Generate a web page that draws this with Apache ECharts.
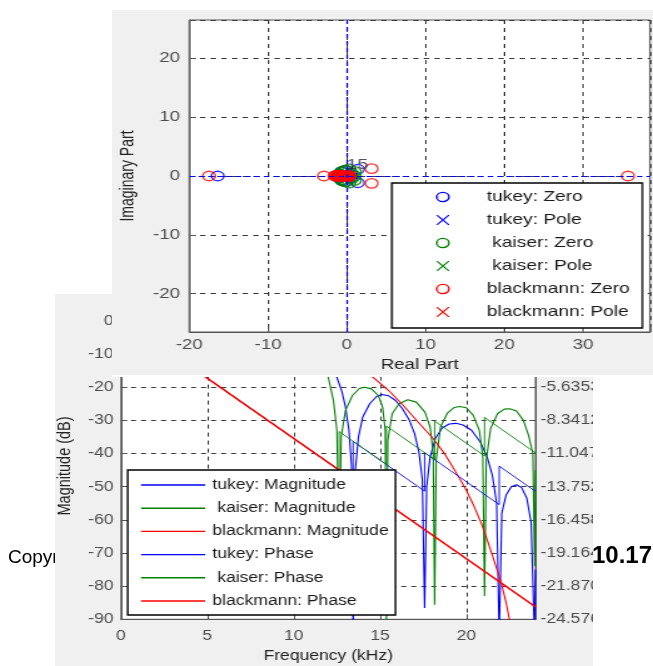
<!DOCTYPE html>
<html>
<head>
<meta charset="utf-8">
<title>Window comparison: pole-zero plot and frequency response</title>
<script src="https://cdn.jsdelivr.net/npm/echarts@6/dist/echarts.min.js"></script>
<style>
  html, body { margin: 0; padding: 0; background: #fff; overflow: hidden; }
  #page { position: absolute; left: 0; top: 0; width: 653px; height: 666px; }
  /* MATLAB figures exported with a wider-than-tall pixel aspect */
  #resp { position: absolute; left: 55px; top: 294px; width: 430px; height: 372px;
          transform: scaleX(1.2512); transform-origin: 0 0; }
  #pz   { position: absolute; left: 112px; top: 10px; width: 406px; height: 367px;
          transform: scaleX(1.3325); transform-origin: 0 0; }
</style>
</head>
<body>
<div id="page"></div>
<div id="resp"></div>
<div id="pz"></div>
<script>
// ---------------- pole-zero plot (z-plane) ----------------
const tukeyZeros = [[-16.4, 0], [-0.061, 0], [1.4, 1.15], [1.4, -1.15], [0.42, 0.35], [0.42, -0.35],
  [-0.19, 0.98], [-0.19, -0.98], [-0.67, 0.74], [-0.67, -0.74], [-0.96, 0.27], [-0.96, -0.27], [-1, 0]];
const tukeyPoles = [[0, 0]];
const kaiserZeros = [[-0.08, 1.0], [-0.08, -1.0], [-0.43, 0.9], [-0.43, -0.9], [-0.72, 0.69], [-0.72, -0.69],
  [-0.93, 0.38], [-0.93, -0.38], [-1, 0], [1.0, 0.75], [1.0, -0.75], [0.63, 0.45], [0.63, -0.45], [1.0, 0],
  [0.3, 1.2], [0.3, -1.2]];
const kaiserPoles = [[0, 0]];
const blackmannZeros = [[-17.5, 0], [-0.057, 0], [35.7, 0], [0.028, 0], [-2.9, 0], [-0.345, 0],
  [3.15, 1.25], [3.15, -1.25], [0.274, 0.109], [0.274, -0.109], [-1.55, 0], [-1.2, 0.12], [-1.2, -0.12],
  [-0.9, 0], [-0.62, 0.1], [-0.62, -0.1], [-0.2, 0.08], [-0.2, -0.08], [-1.4, 0.1], [-1.0, 0.15],
  [-0.8, -0.12], [-0.45, 0.12], [-0.45, -0.12], [0.1, 0.1], [0.1, -0.1]];
const blackmannPoles = [[0, 0]];
const poleMultiplicity = '15';
const realTicks = [-20, -10, 0, 10, 20, 30];
const imagTicks = [-20, -10, 0, 10, 20];
const pzLegendNames = ['tukey: Zero', 'tukey: Pole', ' kaiser: Zero', ' kaiser: Pole', 'blackmann: Zero', 'blackmann: Pole'];

// ---------------- magnitude / phase response ----------------
const tukeyFreq = [0, 4, 8, 10, 11, 12, 12.5, 12.8, 13.0, 13.2, 13.35, 13.44, 13.55, 13.75, 14.0, 14.4, 14.8, 15.1, 15.5,
  15.9, 16.3, 16.7, 17.0, 17.25, 17.45, 17.58, 17.7, 17.9, 18.2, 18.6, 19.0, 19.4, 19.8, 20.3, 20.8, 21.2, 21.5,
  21.75, 21.9, 22.05, 22.3, 22.6, 22.9, 23.2, 23.5, 23.75, 23.94, 24];
const tukeyMagDb = [0, -0.5, -3, -6.5, -10, -14, -17, -21.5, -26, -33, -44, -95, -46, -35, -29, -25, -22.8, -22.2, -22.6,
  -24, -26.5, -30, -34, -39.5, -48, -86.6, -50, -41, -35.5, -32.3, -31.1, -30.9, -31.4, -33, -36.5, -41, -46.5,
  -55, -95, -58, -52.5, -50, -49.4, -50.3, -53.5, -61, -95, -75];
const kaiserFreq = [0, 4, 8, 10, 11, 11.5, 12.0, 12.3, 12.5, 12.63, 12.75, 13.0, 13.4, 13.8, 14.1, 14.5, 14.9, 15.15, 15.3,
  15.37, 15.45, 15.7, 16.1, 16.6, 17.1, 17.6, 17.9, 18.08, 18.16, 18.25, 18.5, 18.9, 19.3, 19.6, 20.0, 20.4, 20.75,
  20.95, 21.05, 21.15, 21.4, 21.8, 22.2, 22.5, 22.9, 23.3, 23.6, 23.85, 23.95, 24];
const kaiserMagDb = [0, -0.2, -2, -5, -9, -12, -17, -24, -33, -70, -35, -27, -22.5, -20.4, -20.0, -20.5, -22.5, -26, -33,
  -92, -36, -28, -25, -23.8, -24.5, -27.5, -32, -40, -85.6, -42, -32, -27.8, -26.1, -25.8, -26.2, -28.5, -33,
  -41, -83, -42, -32.5, -28, -26.6, -26.5, -27.2, -30, -34.5, -40, -74, -45];
const blackmannFreq = [0, 4, 8, 10, 12, 13.5, 14.6, 15.5, 16.31, 17.2, 18.06, 18.7, 19.2, 19.6, 19.99, 20.45, 20.86,
  21.2, 21.53, 21.8, 22.02, 22.3, 22.5, 22.6];
const blackmannMagDb = [0, -1, -4, -7, -11.5, -14.5, -17, -21, -25.3, -30.5, -35.4, -39.8, -44, -47.5, -51, -56, -61,
  -66, -71.1, -75.5, -79.1, -85, -90.2, -92];

const tukeyPhaseFreq = [0, 13.44, 13.44, 17.58, 17.58, 21.9, 21.9, 24];
const tukeyPhaseRad = [0, -13.195, -10.053, -14.118, -10.976, -15.217, -12.075, -14.137];
const kaiserPhaseFreq = [0, 12.63, 12.63, 15.37, 15.37, 18.16, 18.16, 21.05, 21.05, 24];
const kaiserPhaseRad = [0, -12.400, -9.258, -11.948, -8.806, -11.546, -8.404, -11.241, -8.099, -10.996];
const blackmannPhaseFreq = [0, 24];
const blackmannPhaseRad = [0, -23.562];

const freqTicks = [0, 5, 10, 15, 20];
const magTicks = [-90, -80, -70, -60, -50, -40, -30, -20, -10, 0];
const phaseTickLabels = ['-24.5765', '-21.8706', '-19.1647', '-16.4588', '-13.7529', '-11.0471', '-8.3412',
  '-5.6353', '-2.9294', '-0.2235'];
const respLegendNames = ['tukey: Magnitude', ' kaiser: Magnitude', 'blackmann: Magnitude',
  'tukey: Phase', ' kaiser: Phase', 'blackmann: Phase'];

const BLUE = '#0000ff', GREEN = '#008000', RED = '#ff0000';
const FONT = '"Liberation Sans", Arial, sans-serif';
const TICK_COLOR = '#4d4d4d';
const GRID_LINE = { show: true, lineStyle: { color: '#3a3a3a', type: [4, 4], width: 1 } };

const zip = (xs, ys) => xs.map((x, i) => [x, ys[i]]);

// ---------------- background page text ----------------
const page = echarts.init(document.getElementById('page'));
page.setOption({
  animation: false,
  backgroundColor: '#ffffff',
  graphic: [
    { type: 'text', left: 8, top: 548, silent: true,
      style: { text: 'Copyright \u00a9 2014', fill: '#000', font: '19px ' + FONT } },
    { type: 'text', left: 592, top: 544, silent: true,
      style: { text: '10.1717/journal', fill: '#000', font: 'bold 24px ' + FONT } }
  ]
});

// ---------------- frequency response figure ----------------
const resp = echarts.init(document.getElementById('resp'));
const respColors = [BLUE, GREEN, RED, BLUE, GREEN, RED];

function respLegend() {
  const x0 = 58.1, y0 = 176, w = 214, h = 145;
  const items = [{ type: 'rect', z: 100, shape: { x: x0, y: y0, width: w, height: h },
    style: { fill: '#fff', stroke: '#000', lineWidth: 1.4 } }];
  respLegendNames.forEach((name, i) => {
    const y = y0 + 15 + i * 23.2;
    items.push({ type: 'line', z: 101, shape: { x1: 68.8, y1: y, x2: 120, y2: y },
      style: { stroke: respColors[i], lineWidth: 1.4 } });
    items.push({ type: 'text', z: 101, x: 125.8, y: y,
      style: { text: name, fill: '#1a1a1a', font: '14px ' + FONT, verticalAlign: 'middle', align: 'left' } });
  });
  return items;
}

const lineSeries = (name, data, color, axis, width) => ({
  name, type: 'line', yAxisIndex: axis, data, color, showSymbol: false, symbol: 'none',
  lineStyle: { color, width: width || 1.1 }, clip: true, silent: true, animation: false
});

resp.setOption({
  animation: false,
  backgroundColor: '#f0f0f0',
  grid: { left: 52.75, right: 46, top: 18.6, bottom: 46.7, outerBoundsMode: 'none', containLabel: false,
    show: true, backgroundColor: '#ffffff', borderColor: '#555', borderWidth: 1 },
  xAxis: {
    type: 'value', min: 0, max: 24, interval: 5,
    name: 'Frequency (kHz)', nameLocation: 'middle', nameGap: 29.5,
    nameTextStyle: { color: '#222', fontSize: 14, fontFamily: FONT },
    axisLine: { show: true, onZero: false, lineStyle: { color: '#555' } },
    axisTick: { show: true, inside: true, length: 5, lineStyle: { color: '#555' } },
    axisLabel: { margin: 10, color: TICK_COLOR, fontSize: 14, fontFamily: FONT,
      formatter: v => (freqTicks.includes(v) ? String(v) : '') },
    splitLine: GRID_LINE
  },
  yAxis: [{
    type: 'value', min: -90, max: 2.5, interval: 10,
    name: 'Magnitude (dB)', nameLocation: 'middle', nameGap: 34,
    nameTextStyle: { color: '#222', fontSize: 14.5, fontFamily: FONT },
    axisLine: { show: true, onZero: false, lineStyle: { color: '#555' } },
    axisTick: { show: true, inside: true, length: 5, lineStyle: { color: '#555' } },
    axisLabel: { margin: 6, color: TICK_COLOR, fontSize: 14, fontFamily: FONT,
      formatter: v => (magTicks.includes(v) ? String(v) : '') },
    splitLine: GRID_LINE
  }, {
    type: 'value', position: 'right', min: -24.5765, max: 0.4529, interval: 2.70588,
    axisLine: { show: true, onZero: false, lineStyle: { color: '#555' } },
    axisTick: { show: true, inside: true, length: 5, lineStyle: { color: '#555' } },
    axisLabel: { margin: 4, color: TICK_COLOR, fontSize: 14, fontFamily: FONT,
      formatter: (v, i) => phaseTickLabels[i] || '' },
    splitLine: { show: false }
  }],
  series: [
    lineSeries('tukey: Magnitude', zip(tukeyFreq, tukeyMagDb), BLUE, 0),
    lineSeries(' kaiser: Magnitude', zip(kaiserFreq, kaiserMagDb), GREEN, 0),
    lineSeries('blackmann: Magnitude', zip(blackmannFreq, blackmannMagDb), RED, 0),
    lineSeries('tukey: Phase', zip(tukeyPhaseFreq, tukeyPhaseRad), BLUE, 1, 0.9),
    lineSeries(' kaiser: Phase', zip(kaiserPhaseFreq, kaiserPhaseRad), GREEN, 1, 0.9),
    lineSeries('blackmann: Phase', zip(blackmannPhaseFreq, blackmannPhaseRad), RED, 1, 1.4)
  ],
  graphic: respLegend()
});

// ---------------- pole-zero figure ----------------
const pz = echarts.init(document.getElementById('pz'));
const pzColors = [BLUE, BLUE, GREEN, GREEN, RED, RED];
const CROSS = 'path://M0,0L10,10M10,0L0,10';

function pzLegend() {
  const x0 = 210, y0 = 173, w = 188, h = 145;
  const items = [{ type: 'rect', z: 100, shape: { x: x0, y: y0, width: w, height: h },
    style: { fill: '#fff', stroke: '#000', lineWidth: 1.3 } }];
  pzLegendNames.forEach((name, i) => {
    const y = y0 + 14 + i * 23;
    const cx = 248.3;
    if (i % 2 === 0) {
      items.push({ type: 'circle', z: 101, shape: { cx, cy: y, r: 4.6 },
        style: { fill: 'none', stroke: pzColors[i], lineWidth: 1.3 } });
    } else {
      items.push({ type: 'line', z: 101, shape: { x1: cx - 4.5, y1: y - 4.8, x2: cx + 4.5, y2: y + 4.8 },
        style: { stroke: pzColors[i], lineWidth: 1.1 } });
      items.push({ type: 'line', z: 101, shape: { x1: cx - 4.5, y1: y + 4.8, x2: cx + 4.5, y2: y - 4.8 },
        style: { stroke: pzColors[i], lineWidth: 1.1 } });
    }
    items.push({ type: 'text', z: 101, x: 281.3, y: y,
      style: { text: name, fill: '#1a1a1a', font: '14.4px ' + FONT, verticalAlign: 'middle', align: 'left' } });
  });
  // thin white strip along the lower edge of the figure
  items.push({ type: 'rect', z: 101, shape: { x: 0, y: 365, width: 406, height: 2 }, style: { fill: '#fff' } });
  return items;
}

const zeroSeries = (name, data, color) => ({
  name, type: 'scatter', data, symbol: 'circle', symbolSize: 9.5, silent: true,
  itemStyle: { color: 'rgba(0,0,0,0)', borderColor: color, borderWidth: 1.3 }
});
const poleSeries = (name, data, color, label) => ({
  name, type: 'scatter', data, symbol: CROSS, symbolSize: 9, silent: true,
  itemStyle: { color: 'rgba(0,0,0,0)', borderColor: color, borderWidth: 1.1 },
  label: label ? { show: true, formatter: label, position: [4.5, -14], color: '#2a2a50',
    fontSize: 15, fontFamily: FONT } : { show: false }
});

pz.setOption({
  animation: false,
  backgroundColor: '#f0f0f0',
  grid: { left: 58, right: 2.25, top: 10, bottom: 45, outerBoundsMode: 'none', containLabel: false,
    show: true, backgroundColor: '#ffffff', borderColor: '#555', borderWidth: 1 },
  xAxis: {
    type: 'value', min: -20, max: 38.5, interval: 10,
    name: 'Real Part', nameLocation: 'middle', nameGap: 26,
    nameTextStyle: { color: '#222', fontSize: 14, fontFamily: FONT },
    axisLine: { show: true, onZero: false, lineStyle: { color: '#555' } },
    axisTick: { show: true, inside: true, length: 5, lineStyle: { color: '#555' } },
    axisLabel: { margin: 6, color: TICK_COLOR, fontSize: 14, fontFamily: FONT,
      formatter: v => (realTicks.includes(v) ? String(v) : '') },
    splitLine: GRID_LINE
  },
  yAxis: {
    type: 'value', min: -26.5, max: 26.5,
    name: 'Imaginary Part', nameLocation: 'middle', nameGap: 39,
    nameTextStyle: { color: '#222', fontSize: 14, fontFamily: FONT },
    axisLine: { show: true, onZero: false, lineStyle: { color: '#555' } },
    axisTick: { show: true, inside: true, length: 5, lineStyle: { color: '#555' } },
    axisLabel: { margin: 7, color: TICK_COLOR, fontSize: 14, fontFamily: FONT,
      formatter: v => (imagTicks.includes(v) ? String(v) : '') },
    splitLine: GRID_LINE
  },
  series: [
    zeroSeries(pzLegendNames[0], tukeyZeros, BLUE),
    poleSeries(pzLegendNames[1], tukeyPoles, BLUE),
    zeroSeries(pzLegendNames[2], kaiserZeros, GREEN),
    poleSeries(pzLegendNames[3], kaiserPoles, GREEN),
    zeroSeries(pzLegendNames[4], blackmannZeros, RED),
    poleSeries(pzLegendNames[5], blackmannPoles, RED, poleMultiplicity),
    {
      name: 'axes', type: 'scatter', data: [], z: 10, silent: true,
      markLine: {
        silent: true, symbol: ['none', 'none'], animation: false, label: { show: false },
        lineStyle: { color: BLUE, type: [4, 3], width: 1.2 },
        data: [{ xAxis: 0 }, { yAxis: 0 }]
      }
    }
  ],
  graphic: pzLegend()
});
</script>
</body>
</html>
